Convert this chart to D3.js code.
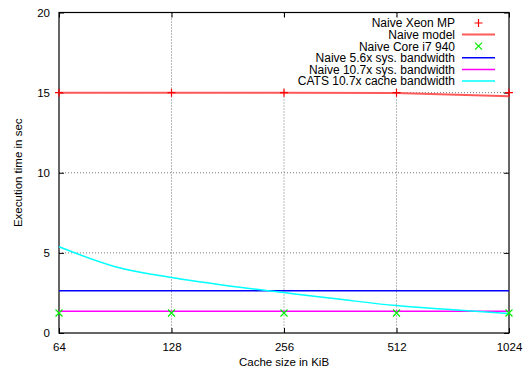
<!DOCTYPE html>
<html><head><meta charset="utf-8">
<script src="https://cdn.jsdelivr.net/npm/d3@7"></script>
<style>body{margin:0;background:#fff}text{font-family:"Liberation Sans",Arial,sans-serif;font-size:11.5px;fill:#000}</style>
</head><body>
<svg id="c" width="524" height="372"></svg>
<script>
const cacheSizes = [64, 128, 256, 512, 1024];
const xTicks = [64, 128, 256, 512, 1024];
const yTicks = [0, 5, 10, 15, 20];
const naiveXeon = [15.0, 15.0, 15.0, 15.0, 15.0];
const naiveModel = [15.0, 15.0, 15.0, 14.98, 14.77];
const naiveCoreI7 = [1.25, 1.25, 1.25, 1.25, 1.25];
const sys56 = [2.64, 2.64, 2.64, 2.64, 2.63];
const sys107 = [1.36, 1.36, 1.36, 1.36, 1.36];
const catsSizes = [64, 90.5, 128, 181, 256, 362, 512, 724, 1024];
const cats107 = [5.38, 4.14, 3.46, 2.95, 2.52, 2.1, 1.71, 1.45, 1.21];
const legendLabels = ["Naive Xeon MP", "Naive model", "Naive Core i7 940", "Naive 5.6x sys. bandwidth", "Naive 10.7x sys. bandwidth", "CATS 10.7x cache bandwidth"];

const svg = d3.select("#c");
const L = 59, R = 509, T = 12.5, B = 333;
const x = d3.scaleLog().base(2).domain([64, 1024]).range([L, R]);
const y = d3.scaleLinear().domain([0, 20]).range([B, T]);

// grid
const g = svg.append("g");
g.selectAll(".gx").data(xTicks.filter(d => d > 64 && d < 1024)).join("line")
  .attr("x1", d => x(d)).attr("x2", d => x(d)).attr("y1", T).attr("y2", B)
  .attr("stroke", "#777").attr("stroke-width", 1).attr("stroke-dasharray", "1,2");
g.selectAll(".gy").data(yTicks.filter(d => d > 0 && d < 20)).join("line")
  .attr("y1", d => y(d)).attr("y2", d => y(d)).attr("x1", L).attr("x2", R)
  .attr("stroke", "#777").attr("stroke-width", 1).attr("stroke-dasharray", "1,2");

// legend background clears grid
svg.append("rect").attr("x", 282).attr("y", 17).attr("width", 224).attr("height", 71).attr("fill", "#fff");

// axes with inward ticks
const fmt = d => d;
const styleText = a => a.selectAll("text").style("font-family", "Liberation Sans, Arial, sans-serif").style("font-size", "11.5px");
svg.append("g").attr("transform", `translate(0,${B})`)
  .call(d3.axisBottom(x).tickValues(xTicks).tickFormat(fmt).tickSizeInner(-5).tickSizeOuter(0).tickPadding(10))
  .call(a => { a.select(".domain").remove(); styleText(a); });
svg.append("g").attr("transform", `translate(0,${T})`)
  .call(d3.axisTop(x).tickValues(xTicks).tickFormat("").tickSizeInner(-5).tickSizeOuter(0))
  .call(a => a.select(".domain").remove());
svg.append("g").attr("transform", `translate(${L},0)`)
  .call(d3.axisLeft(y).tickValues(yTicks).tickSizeInner(-5).tickSizeOuter(0).tickPadding(9))
  .call(a => { a.select(".domain").remove(); styleText(a); });
svg.append("g").attr("transform", `translate(${R},0)`)
  .call(d3.axisRight(y).tickValues(yTicks).tickFormat("").tickSizeInner(-5).tickSizeOuter(0))
  .call(a => a.select(".domain").remove());
svg.selectAll(".tick line").attr("stroke", "#000");

svg.append("rect").attr("x", L).attr("y", T).attr("width", R - L).attr("height", B - T)
  .attr("fill", "none").attr("stroke", "#000").attr("stroke-width", 1.2);

// lines
const line = d3.line().x(d => x(d[0])).y(d => y(d[1]));
const lineC = d3.line().x(d => x(d[0])).y(d => y(d[1])).curve(d3.curveMonotoneX);
const plot = svg.append("g");
plot.append("path").attr("d", line(d3.zip(cacheSizes, sys56))).attr("fill", "none").attr("stroke", "#0000ff").attr("stroke-width", 1.5);
plot.append("path").attr("d", line(d3.zip(cacheSizes, sys107))).attr("fill", "none").attr("stroke", "#ff00ff").attr("stroke-width", 1.5);
plot.append("path").attr("d", lineC(d3.zip(catsSizes, cats107))).attr("fill", "none").attr("stroke", "#00ffff").attr("stroke-width", 1.5);
plot.append("path").attr("d", line(d3.zip(cacheSizes, naiveModel))).attr("fill", "none").attr("stroke", "#ff5a5a").attr("stroke-width", 2);

function plus(sel, cx, cy, col) {
  sel.append("path").attr("d", `M${cx - 4},${cy}H${cx + 4}M${cx},${cy - 4}V${cy + 4}`).attr("stroke", col).attr("stroke-width", 1.2).attr("fill", "none");
}
function cross(sel, cx, cy, col) {
  sel.append("path").attr("d", `M${cx - 3.5},${cy - 3.5}L${cx + 3.5},${cy + 3.5}M${cx - 3.5},${cy + 3.5}L${cx + 3.5},${cy - 3.5}`).attr("stroke", col).attr("stroke-width", 1.2).attr("fill", "none");
}
cacheSizes.forEach((c, i) => plus(plot, x(c), y(naiveXeon[i]), "#ff0000"));
cacheSizes.forEach((c, i) => cross(plot, x(c), y(naiveCoreI7[i]), "#00ee00"));

// axis titles
svg.append("text").attr("x", (L + R) / 2).attr("y", 366).attr("text-anchor", "middle").text("Cache size in KiB");
svg.append("text").attr("transform", `translate(22,${(T + B) / 2}) rotate(-90)`).attr("text-anchor", "middle").text("Execution time in sec");

// legend
const leg = svg.append("g");
const ly0 = 23, ldy = 11.6, tx = 455, s1 = 462, s2 = 495;
legendLabels.forEach((lab, i) => {
  const yy = ly0 + i * ldy;
  leg.append("text").attr("x", tx).attr("y", yy + 4.3).attr("text-anchor", "end").style("font-size", "12px").text(lab);
});
plus(leg, (s1 + s2) / 2, ly0, "#ff0000");
leg.append("line").attr("x1", s1).attr("x2", s2).attr("y1", ly0 + ldy).attr("y2", ly0 + ldy).attr("stroke", "#ff5a5a").attr("stroke-width", 2);
cross(leg, (s1 + s2) / 2, ly0 + 2 * ldy, "#00ee00");
[["#0000ff", 3], ["#ff00ff", 4], ["#00ffff", 5]].forEach(([col, i]) => {
  leg.append("line").attr("x1", s1).attr("x2", s2).attr("y1", ly0 + i * ldy).attr("y2", ly0 + i * ldy).attr("stroke", col).attr("stroke-width", 1.5);
});
</script>
</body></html>
